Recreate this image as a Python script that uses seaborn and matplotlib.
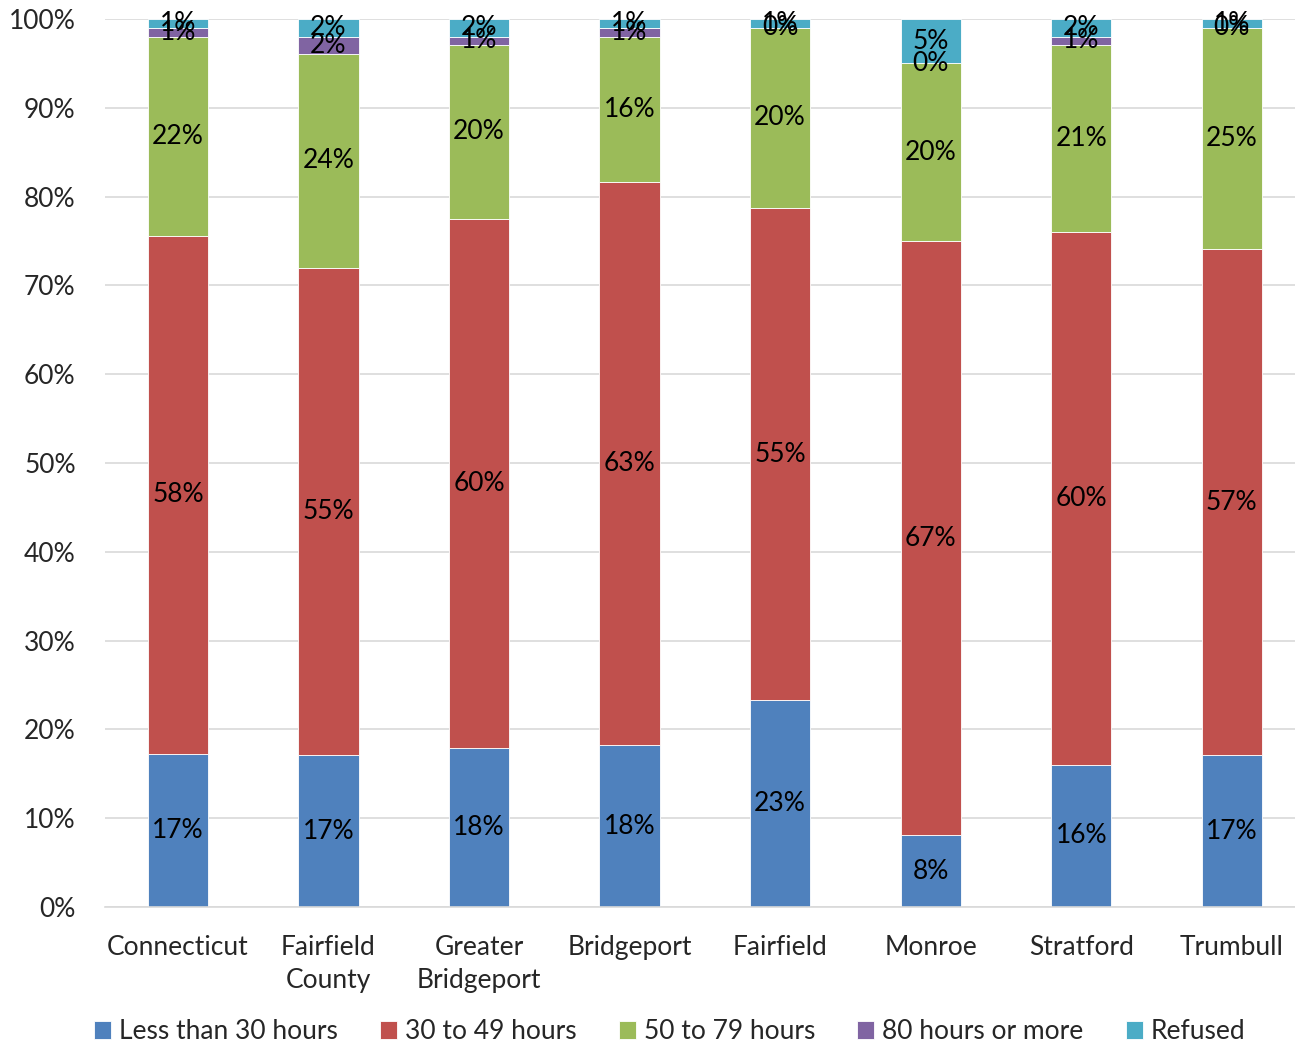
import pandas as pd
import numpy as np
import matplotlib.pyplot as plt
import seaborn as sns

# data (percent)
places = ["Connecticut", "Fairfield\nCounty", "Greater\nBridgeport", "Bridgeport",
          "Fairfield", "Monroe", "Stratford", "Trumbull"]
less_30 = [17.2, 17.1, 17.9, 18.2, 23.3, 8.1, 16.0, 17.1]
h30_49 = [58.4, 54.9, 59.6, 63.4, 55.4, 66.9, 60.0, 57.0]
h50_79 = [22.4, 24.1, 19.6, 16.4, 20.3, 20.0, 21.1, 24.9]
h80_plus = [1.0, 1.9, 0.9, 1.0, 0.0, 0.0, 0.9, 0.0]
refused = [1.0, 2.0, 2.0, 1.0, 1.0, 5.0, 2.0, 1.0]
series = ["Less than 30 hours", "30 to 49 hours", "50 to 79 hours", "80 hours or more", "Refused"]
colors = ["#4F81BD", "#C0504D", "#9BBB59", "#8064A2", "#4BACC6"]

df = pd.DataFrame({"place": places,
                   series[0]: less_30, series[1]: h30_49, series[2]: h50_79,
                   series[3]: h80_plus, series[4]: refused})

sns.set_style("white")
plt.rcParams['font.family'] = ['Lato', 'DejaVu Sans']

fig = plt.figure(figsize=(12.95, 10.51), dpi=100)
ax = fig.add_axes([0.081, 0.137, 0.919, 0.845])

fs = 19
bottom = np.zeros(len(places))
for s, c in zip(series, colors):
    sns.barplot(data=df, x="place", y=s, color=c, bottom=bottom, width=0.4,
                ax=ax, label=s, edgecolor="white", linewidth=0.6, saturation=1)
    vals = df[s].values
    for i, v in enumerate(vals):
        ax.text(i, bottom[i] + v / 2, f"{v:.0f}%", ha="center", va="center",
                fontsize=fs, color="black")
    bottom = bottom + vals

ax.set_ylim(0, 100)
ax.set_xlim(-0.485, 7.42)
ax.set_yticks(range(0, 101, 10))
ax.set_yticklabels([f"{t}%" for t in range(0, 101, 10)], fontsize=fs)
ax.set_xticks(range(len(places)))
ax.set_xticklabels(places, fontsize=fs, linespacing=1.4)
ax.tick_params(axis="x", length=0, pad=20)
ax.tick_params(axis="y", length=0, pad=21)
ax.set_xlabel("")
ax.set_ylabel("")
ax.yaxis.grid(True, color="#D9D9D9", linewidth=1.2)
ax.set_axisbelow(True)
for sp in ["top", "right", "left"]:
    ax.spines[sp].set_visible(False)
ax.spines["bottom"].set_color("#D9D9D9")
ax.spines["bottom"].set_linewidth(1.2)

h, l = ax.get_legend_handles_labels()
if ax.legend_:
    ax.legend_.remove()
fig.legend(h, l, loc="lower center", bbox_to_anchor=(0.517, -0.016), ncol=5, frameon=False,
           fontsize=fs, handlelength=0.65, handleheight=0.65, handletextpad=0.3,
           columnspacing=1.6)

fig.savefig("out.png", dpi=100)
